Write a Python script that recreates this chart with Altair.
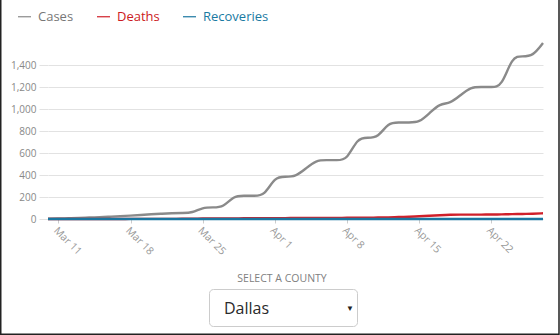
import altair as alt
import pandas as pd

dates = [d.strftime("%Y/%m/%d") for d in pd.date_range("2020-03-10", "2020-04-27")]

cases = [2, 4, 6, 9, 13, 17, 21, 26, 31, 37, 43, 48, 52, 55, 55, 106, 106, 106, 212, 212,
         212, 212, 385, 385, 385, 460, 536, 536, 536, 536, 740, 740, 740, 879, 879, 879,
         879, 965, 1052, 1052, 1128, 1203, 1203, 1203, 1203, 1482, 1482, 1482, 1603]
deaths = [0, 0, 0, 0, 0, 0, 0, 0, 1, 1, 1, 1, 1, 2, 3, 4, 5, 5, 6, 6, 7, 7, 8, 8, 9, 9,
          10, 10, 10, 11, 11, 12, 13, 15, 18, 21, 24, 30, 35, 39, 40, 40, 40, 41, 42, 44,
          46, 48, 52]
recoveries = [0, 0, 0, 0, 0, 0, 0, 0, 0, 0, 0, 0, 0, 0, 0, 0, 0, 0, 0, 0, 0, 0, 0, 0, 0,
              0, 0, 0, 0, 0, 0, 0, 0, 0, 0, 0, 0, 0, 0, 0, 0, 0, 0, 0, 0, 0, 0, 0, 0]

series_names = ["Cases", "Deaths", "Recoveries"]
series_colors = ["#8a8a8a", "#d0202a", "#1a76a0"]
label_colors = ["#777777", "#cc1a22", "#1a7aa2"]
y_ticks = [0, 200, 400, 600, 800, 1000, 1200, 1400]
x_tick_days = [(3, 11), (3, 18), (3, 25), (4, 1), (4, 8), (4, 15), (4, 22)]

rows = []
for name, vals, order in zip(series_names, [cases, deaths, recoveries], [0, 1, 2]):
    for d, v in zip(dates, vals):
        rows.append({"date": d, "value": v, "series": name, "order": order})
df = pd.DataFrame(rows)

FONT = "Open Sans"

label_expr = (f"datum.value == '{series_names[0]}' ? '{label_colors[0]}' : "
              f"datum.value == '{series_names[1]}' ? '{label_colors[1]}' : '{label_colors[2]}'")

lines = alt.Chart(df).mark_line(interpolate="basis", strokeWidth=2.4).encode(
    x=alt.X("date:T", title=None,
            scale=alt.Scale(nice=False, padding=0),
            axis=alt.Axis(values=[alt.DateTime(year=2020, month=m, date=d) for m, d in x_tick_days],
                          format="%b %-d", labelAngle=45, grid=False, domain=False,
                          ticks=True, tickSize=4, tickColor="#cccccc",
                          labelFontSize=10.5, labelColor="#999999", labelPadding=2,
                          labelFont=FONT)),
    y=alt.Y("value:Q", title=None,
            scale=alt.Scale(domain=[0, 1640], nice=False),
            axis=alt.Axis(values=y_ticks, format=",.0f", grid=True, gridColor="#e2e2e2",
                          domain=False, tickSize=9, tickColor="#e2e2e2",
                          labelFontSize=10, labelColor="#888888", labelPadding=3,
                          labelFont=FONT)),
    color=alt.Color("series:N", title=None,
                    scale=alt.Scale(domain=series_names, range=series_colors),
                    legend=alt.Legend(orient="none", legendX=-31, legendY=-30,
                                      direction="horizontal", symbolType="stroke",
                                      symbolSize=169, symbolStrokeWidth=1.2,
                                      labelFontSize=13, labelFont=FONT, labelOffset=6,
                                      columnPadding=20, padding=0,
                                      labelColor=alt.ExprRef(label_expr))),
    order=alt.Order("order:Q"),
    detail="series:N",
)

one = pd.DataFrame({"a": [0]})

select_label = alt.Chart(one).mark_text(
    text="SELECT A COUNTY", font=FONT, fontSize=10.5, color="#808080",
    align="center", baseline="middle"
).encode(x=alt.value(234), y=alt.value(240))

box = alt.Chart(one).mark_rect(
    fill="white", stroke="#cccccc", strokeWidth=1, cornerRadius=4
).encode(x=alt.value(161.5), x2=alt.value(309.5), y=alt.value(250.5), y2=alt.value(287.5))

dallas = alt.Chart(one).mark_text(
    text="Dallas", font=FONT, fontSize=16, color="#2a2a2a", align="left", baseline="middle"
).encode(x=alt.value(176), y=alt.value(270))

arrow = alt.Chart(one).mark_text(
    text="▼", fontSize=8, color="#222222", align="center", baseline="middle"
).encode(x=alt.value(302), y=alt.value(270))

border = alt.Chart(one).mark_rect(
    fill=None, stroke="#222222", strokeWidth=1.5
).encode(x=alt.value(-47.25), x2=alt.value(511.0), y=alt.value(-45), y2=alt.value(295.25))

chart = alt.layer(lines, select_label, box, dallas, arrow, border).properties(
    width=495, height=180,
    autosize=alt.AutoSizeParams(type="none"),
    padding={"left": 48, "top": 39, "right": 17, "bottom": 116},
).configure(font=FONT).configure_view(stroke=None)

chart.save("out.html", embed_options={"renderer": "svg", "actions": False})
